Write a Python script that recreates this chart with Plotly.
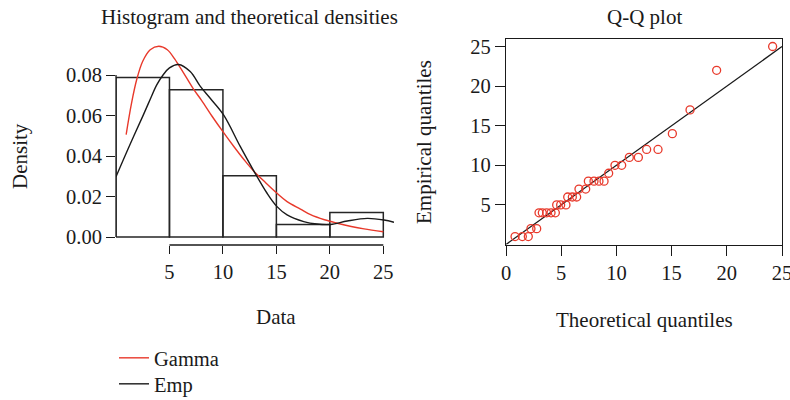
import plotly.graph_objects as go

# ---------------- data ----------------
bin_edges = [0, 5, 10, 15, 20, 25]
hist_density = [0.0788, 0.0727, 0.0303, 0.0062, 0.0121]

gamma_x = [0.95, 1.45, 1.95, 2.5, 3.2, 4.0, 4.8, 5.5, 5.84, 6.3, 7.25, 8.0, 9.0, 10.0,
           11.0, 12.0, 12.87, 14.0, 15.06, 16.0, 17.25, 18.2, 19.5, 20.7, 22.0, 23.2, 25.0]
gamma_y = [0.0506, 0.0660, 0.0780, 0.0868, 0.0925, 0.0942, 0.0925, 0.0878, 0.0850, 0.0812,
           0.0730, 0.0675, 0.0595, 0.0520, 0.0448, 0.0380, 0.0326, 0.0268, 0.0216, 0.0175,
           0.0138, 0.0110, 0.0085, 0.0068, 0.0052, 0.0040, 0.0026]

emp_x = [0.0, 1.3, 2.56, 3.2, 3.81, 4.4, 5.0, 5.84, 6.94, 7.87, 8.81, 10.06, 11.63,
         12.87, 14.13, 15.06, 16.0, 17.56, 18.8, 20.06, 21.63, 23.5, 25.06, 26.0]
emp_y = [0.0298, 0.0456, 0.0603, 0.0680, 0.0751, 0.0800, 0.0835, 0.0852, 0.0817, 0.0745,
         0.0685, 0.0603, 0.0446, 0.0328, 0.0216, 0.0150, 0.0109, 0.0076, 0.0064, 0.0062,
         0.0079, 0.0092, 0.0084, 0.0073]

qq_theoretical = [0.82, 1.48, 2.02, 2.26, 2.78, 2.99, 3.29, 3.68, 4.08, 4.47, 4.59, 4.95,
                  5.43, 5.59, 6.01, 6.40, 6.61, 7.22, 7.46, 7.97, 8.42, 8.88, 9.30, 9.87,
                  10.48, 11.17, 11.99, 12.74, 13.77, 15.07, 16.67, 19.08, 24.15]
qq_empirical = [1, 1, 1, 2, 2, 4, 4, 4, 4, 4, 5, 5, 5, 6, 6, 6, 7, 7, 8, 8, 8, 8, 9, 10,
                10, 11, 11, 12, 12, 14, 17, 22, 25]
qq_line = [0, 25]

hist_xticks = [5, 10, 15, 20, 25]
hist_yticks = [0.0, 0.02, 0.04, 0.06, 0.08]
hist_yticklabels = ["0.00", "0.02", "0.04", "0.06", "0.08"]
qq_xticks = [0, 5, 10, 15, 20, 25]
qq_yticks = [5, 10, 15, 20, 25]

# ---------------- styling ----------------
W, H = 790, 400
FONT = "Liberation Serif"
FS = 20.5
FS_T = 21
INK = "#1a1a1a"
RED = "#e8392b"


def px(x):
    return x / W


def py(y):
    return 1 - y / H


bar_centers = [(a + b) / 2 for a, b in zip(bin_edges[:-1], bin_edges[1:])]
bar_widths = [b - a for a, b in zip(bin_edges[:-1], bin_edges[1:])]

fig = go.Figure()

fig.add_trace(go.Bar(
    x=bar_centers, y=hist_density, width=bar_widths,
    marker=dict(color="rgba(255,255,255,0)", line=dict(color="#262626", width=1.5)),
    showlegend=False, xaxis="x", yaxis="y", hoverinfo="skip"))

fig.add_trace(go.Scatter(
    x=gamma_x, y=gamma_y, mode="lines", name="Gamma",
    line=dict(color=RED, width=1.4, shape="spline", smoothing=1.0),
    xaxis="x", yaxis="y", legend="legend"))

fig.add_trace(go.Scatter(
    x=emp_x, y=emp_y, mode="lines", name="Emp",
    line=dict(color=INK, width=1.4, shape="spline", smoothing=1.0),
    xaxis="x", yaxis="y", legend="legend2"))

fig.add_trace(go.Scatter(
    x=qq_line, y=qq_line, mode="lines", showlegend=False,
    line=dict(color=INK, width=1.3), xaxis="x2", yaxis="y2"))

fig.add_trace(go.Scatter(
    x=qq_theoretical, y=qq_empirical, mode="markers", showlegend=False,
    marker=dict(symbol="circle-open", size=8, color=RED, line=dict(width=1.3)),
    xaxis="x2", yaxis="y2", cliponaxis=False))

tickfont = dict(family=FONT, size=FS, color=INK)

fig.update_layout(
    width=W, height=H, autosize=False,
    margin=dict(l=0, r=0, t=0, b=0, autoexpand=False),
    paper_bgcolor="white", plot_bgcolor="white",
    font=dict(family=FONT, size=FS, color=INK),
    barmode="overlay",
    xaxis=dict(domain=[px(116), px(394)], range=[0, 26], anchor="y",
               tickvals=hist_xticks, ticks="outside", ticklen=8, tickwidth=1.3,
               tickcolor=INK, showline=False, showgrid=False, zeroline=False,
               tickfont=tickfont, fixedrange=True, automargin=False),
    yaxis=dict(domain=[py(245), py(42.6)], range=[-0.00395, 0.096], anchor="x",
               tickvals=hist_yticks, ticktext=hist_yticklabels, ticks="outside",
               ticklen=9, tickwidth=1.3, tickcolor=INK, showline=False,
               showgrid=False, zeroline=False, tickfont=tickfont, fixedrange=True,
               automargin=False),
    xaxis2=dict(domain=[px(506), px(782)], range=[0, 25], anchor="y2",
                tickvals=qq_xticks, ticks="outside", ticklen=10, tickwidth=1.3,
                tickcolor=INK, showline=True, mirror=True, linecolor=INK,
                linewidth=1.3, showgrid=False, zeroline=False, tickfont=tickfont,
                fixedrange=True, automargin=False, ticklabeloverflow="allow"),
    yaxis2=dict(domain=[py(244.5), py(39)], range=[0, 25.95], anchor="x2",
                tickvals=qq_yticks, ticks="outside", ticklen=10, tickwidth=1.3,
                tickcolor=INK, showline=True, mirror=True, linecolor=INK,
                linewidth=1.3, showgrid=False, zeroline=False, tickfont=tickfont,
                fixedrange=True, automargin=False),
    legend=dict(x=px(114), y=py(338), xanchor="left", yanchor="top",
                bgcolor="rgba(0,0,0,0)", borderwidth=0,
                font=dict(family=FONT, size=FS, color=INK)),
    legend2=dict(x=px(114), y=py(364), xanchor="left", yanchor="top",
                 bgcolor="rgba(0,0,0,0)", borderwidth=0,
                 font=dict(family=FONT, size=FS, color=INK)),
    showlegend=True,
)

# axis lines of the histogram panel (R style: spanning first to last tick)
fig.add_shape(type="line", xref="x", yref="y domain", x0=hist_xticks[0], x1=hist_xticks[-1],
              y0=0, y1=0, line=dict(color=INK, width=1.3))
fig.add_shape(type="line", xref="x domain", yref="y", x0=0, x1=0,
              y0=hist_yticks[0], y1=hist_yticks[-1], line=dict(color=INK, width=1.3))

ann = dict(showarrow=False, font=dict(family=FONT, size=FS_T, color=INK),
           xref="paper", yref="paper", xanchor="center", yanchor="middle")
fig.add_annotation(text="Histogram and theoretical densities", x=px(249), y=py(17), **ann)
fig.add_annotation(text="Q-Q plot", x=px(644), y=py(17), **ann)
fig.add_annotation(text="Data", x=px(276), y=py(317), **ann)
fig.add_annotation(text="Theoretical quantiles", x=px(644), y=py(320), **ann)
fig.add_annotation(text="Density", x=px(20), y=py(156), textangle=-90, **ann)
fig.add_annotation(text="Empirical quantiles", x=px(424), y=py(142), textangle=-90, **ann)

fig.write_html("out.html")
